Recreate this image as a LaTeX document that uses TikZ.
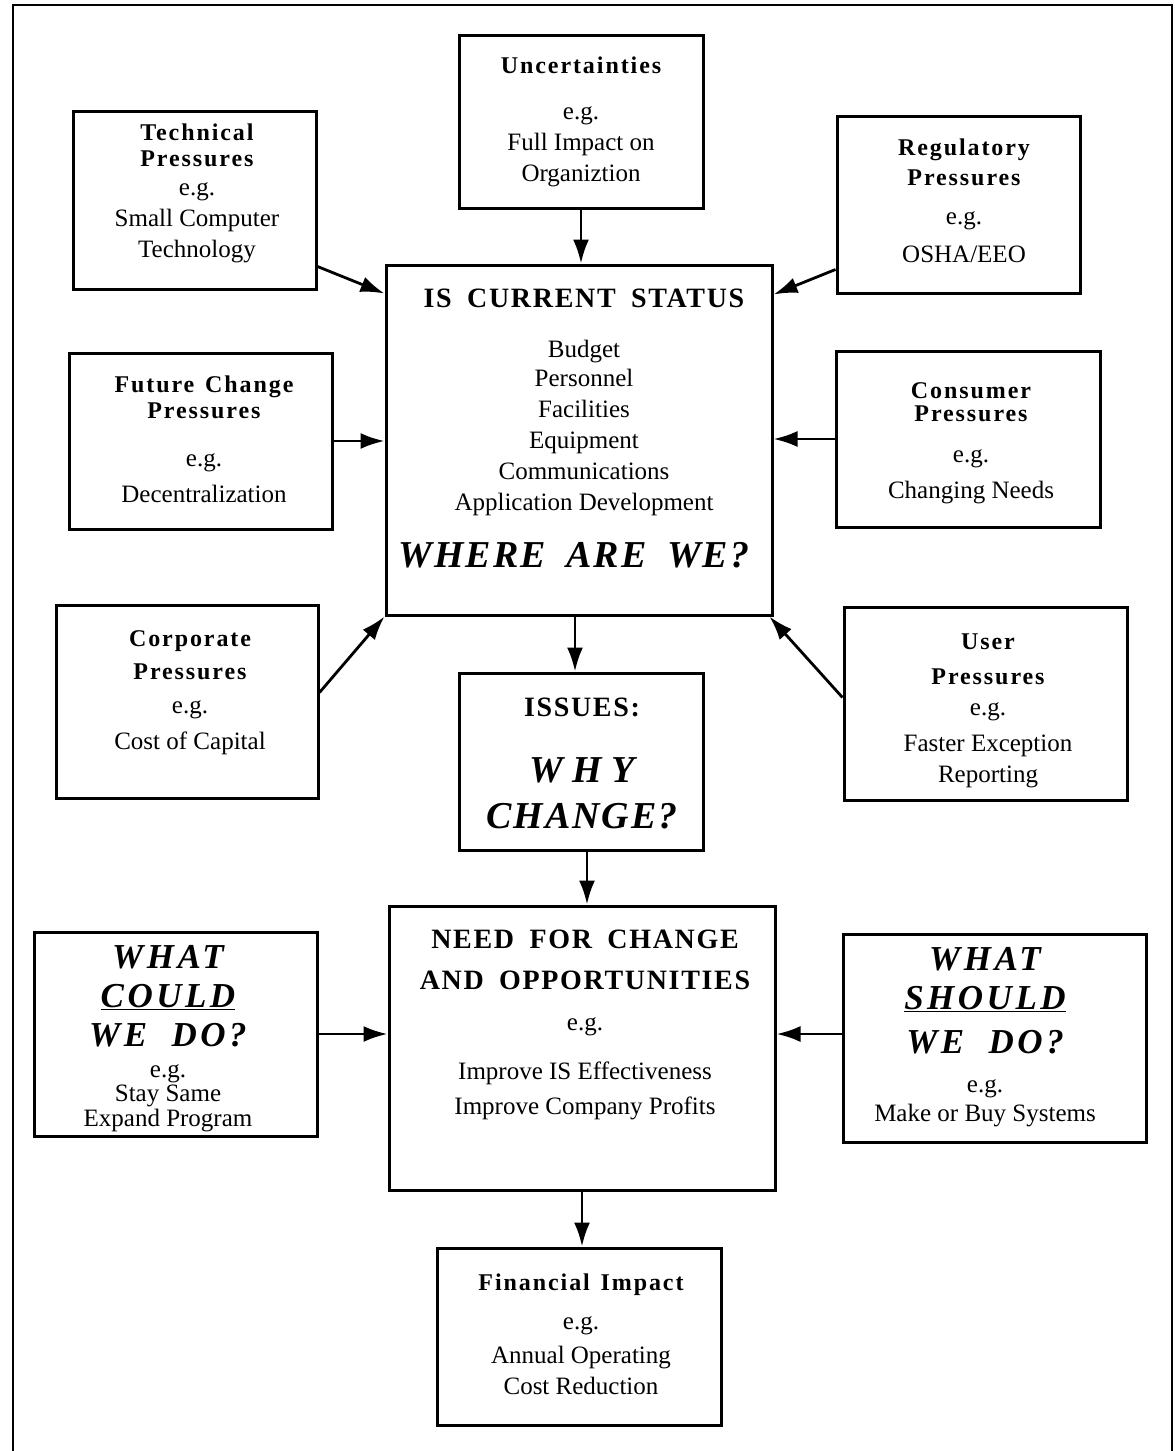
\documentclass[tikz,border=0pt]{standalone}
\usepackage{fontspec}
\setmainfont{Liberation Serif}
\usetikzlibrary{arrows.meta}
\newcommand{\hd}{\fontsize{24}{31}\selectfont\bfseries\addfontfeatures{LetterSpace=8}\spaceskip=.45em}
\newcommand{\bighd}{\fontsize{28}{31}\selectfont\bfseries\addfontfeatures{LetterSpace=6}\spaceskip=.55em}
\newcommand{\askit}{\fontsize{38}{31}\selectfont\bfseries\itshape\addfontfeatures{LetterSpace=5}\spaceskip=.55em}
\newcommand{\doit}{\fontsize{35}{31}\selectfont\bfseries\itshape\addfontfeatures{LetterSpace=10}\spaceskip=.7em}
\tikzset{
  box/.style={draw, line width=3pt, inner sep=0pt},
  txt/.style={anchor=north, align=center, inner sep=0pt, font=\fontsize{25}{31}\selectfont},
}
\begin{document}
\begin{tikzpicture}[x=1pt, y=-1pt, >={Latex[length=24pt,width=16pt]}, line width=2.8pt]
\useasboundingbox (0,0) rectangle (1175,1451);
\draw (13,1451)--(13,5)--(1172,5)--(1172,1451);

% boxes
\node[box, minimum width=244, minimum height=173] (unc) at (581,121.5) {};
\node[box, minimum width=243, minimum height=178] (tech) at (194.5,200) {};
\node[box, minimum width=243, minimum height=177] (reg) at (958.5,204.5) {};
\node[box, minimum width=386, minimum height=350] (is) at (579,440) {};
\node[box, minimum width=263, minimum height=176] (fut) at (200.5,441) {};
\node[box, minimum width=264, minimum height=176] (con) at (968,439) {};
\node[box, minimum width=262, minimum height=193] (corp) at (187,701.5) {};
\node[box, minimum width=283, minimum height=193] (user) at (985.5,703.5) {};
\node[box, minimum width=244, minimum height=177] (iss) at (581,761.5) {};
\node[box, minimum width=386, minimum height=284] (need) at (582,1048) {};
\node[box, minimum width=283, minimum height=204] (could) at (175.5,1034) {};
\node[box, minimum width=303, minimum height=208] (should) at (994.5,1038) {};
\node[box, minimum width=284, minimum height=177] (fin) at (579,1336.5) {};

% texts
\node[txt] (unc-t) at (581,55) {{\hd Uncertainties}\\[15pt] e.g.\\ Full Impact on\\ Organiztion};
\node[txt] (tech-t) at (197,122) {{\hd Technical}\\[-5pt] {\hd Pressures}\\[-2pt] e.g.\\ Small Computer\\ Technology};
\node[txt] (reg-t) at (964,137) {{\hd Regulatory}\\[-1pt] {\hd Pressures}\\[8pt] e.g.\\[7pt] OSHA/EEO};
\node[txt] (is-t) at (584,288) {{\bighd IS CURRENT STATUS}\\[19pt] Budget\\[-2pt] Personnel\\ Facilities\\ Equipment\\ Communications\\ Application Development\\[26pt] \hspace*{-20pt}{\askit WHERE ARE WE?}};
\node[txt] (fut-t) at (204,374) {{\hd Future Change}\\[-5pt] {\hd Pressures}\\[17pt] e.g.\\[5pt] Decentralization};
\node[txt] (con-t) at (971,381) {{\hd Consumer}\\[-8pt] {\hd Pressures}\\[10pt] e.g.\\[5pt] Changing Needs};
\node[txt] (corp-t) at (190,629) {{\hd Corporate}\\[2pt] {\hd Pressures}\\[3pt] e.g.\\[5pt] Cost of Capital};
\node[txt] (user-t) at (988,632) {{\hd User}\\[4pt] {\hd Pressures}\\ e.g.\\[5pt] Faster Exception\\ Reporting};
\node[txt] (iss-t) at (582,697) {{\bighd ISSUES:}\\[35pt] {\askit\addfontfeatures{LetterSpace=25}WHY}\\[15pt] {\askit CHANGE?}};
\node[txt] (need-t) at (585,929) {{\bighd NEED FOR CHANGE}\\[10pt] {\bighd AND OPPORTUNITIES}\\[10pt] e.g.\\[18pt] Improve IS Effectiveness\\[4pt] Improve Company Profits};
\node[txt] (could-t) at (168,944) {{\doit WHAT}\\[8pt] {\doit\underline{COULD}}\\[8pt] {\doit WE DO?}\\ e.g.\\[-7pt] Stay Same\\[-6pt] Expand Program};
\node[txt] (should-t) at (985,946) {{\doit WHAT}\\[8pt] {\doit\underline{SHOULD}}\\[13pt] {\doit WE DO?}\\[8pt] e.g.\\[-2pt] Make or Buy Systems};
\node[txt] (fin-t) at (581,1272) {{\hd Financial Impact}\\[8pt] e.g.\\[3pt] Annual Operating\\ Cost Reduction};

% arrows
\draw[->] (unc.south) -- (unc.south |- is.north);
\draw[->] ([yshift=24pt]tech.south east) -- ([yshift=-30pt]is.north west);
\draw[->] ([yshift=25pt]reg.south west) -- ([yshift=-31pt]is.north east);
\draw[->] (fut.east) -- (fut.east -| is.west);
\draw[->] (con.west) -- (con.west -| is.east);
\draw[->] ([yshift=9pt]corp.east) -- (is.south west);
\draw[->] ([yshift=6pt]user.west) -- ([xshift=-4pt]is.south east);
\draw[->] ([xshift=-4pt]is.south) -- ([xshift=-4pt]is.south |- iss.north);
\draw[->] ([xshift=6pt]iss.south) -- ([xshift=6pt]iss.south |- need.north);
\draw[->] (could.east) -- (could.east -| need.west);
\draw[->] ([yshift=4pt]should.west) -- ([yshift=4pt]should.west -| need.east);
\draw[->] (need.south) -- (need.south |- fin.north);
\end{tikzpicture}
\end{document}
